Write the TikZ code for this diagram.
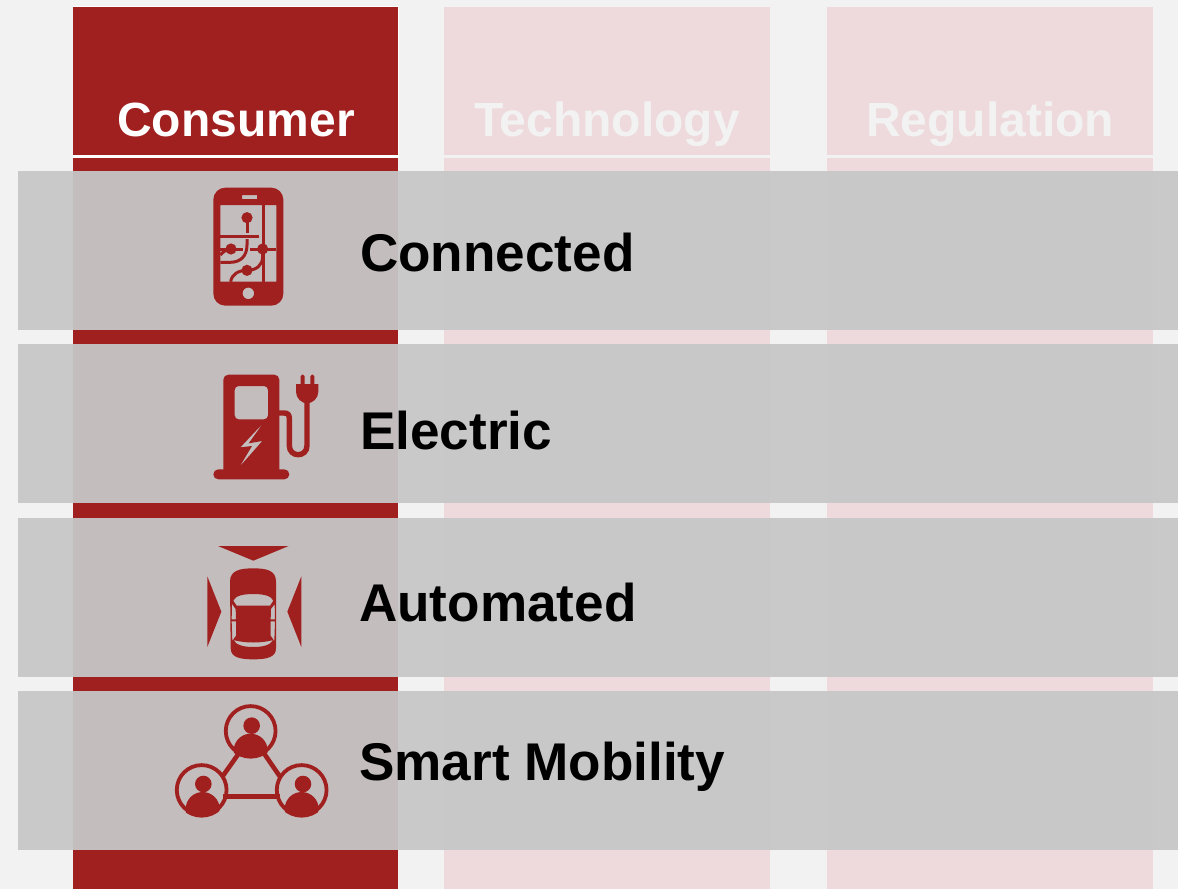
\documentclass[tikz,border=0pt]{standalone}
\usepackage{fontspec}
\setmainfont{Liberation Sans}
\definecolor{bgc}{HTML}{F2F2F2}
\definecolor{redc}{HTML}{A01F1F}
\definecolor{pinkc}{HTML}{EEDADC}
\definecolor{bandc}{HTML}{C7C7C7}
\tikzset{
  column/.style={fill=#1,draw=none,inner sep=0pt,outer sep=0pt,anchor=north west},
  band/.style={fill=bandc,fill opacity=.94,draw=none,inner sep=0pt,outer sep=0pt,anchor=north west,minimum width=1160pt,minimum height=159pt},
  headtext/.style={font=\bfseries\fontsize{48}{56}\selectfont,anchor=base,inner sep=0pt,text=#1},
  bandtext/.style={font=\bfseries\fontsize{53.1}{60}\selectfont,anchor=base west,inner sep=0pt,text=black},
  icon/.style={shift={#1},x=.33333pt,y=-.33333pt},
  redline/.style={draw=redc,line width=#1,line cap=butt},
}
\begin{document}
\begin{tikzpicture}[x=1pt,y=-1pt]
\useasboundingbox (0,0) rectangle (1178,889);
\fill[bgc] (0,0) rectangle (1178,889);
% columns
\node[column=redc,minimum width=325pt,minimum height=148pt] (h1) at (73,7) {};
\node[column=redc,minimum width=325pt,minimum height=731pt] (c1) at (73,158) {};
\node[column=pinkc,minimum width=326pt,minimum height=148pt] (h2) at (444,7) {};
\node[column=pinkc,minimum width=326pt,minimum height=731pt] (c2) at (444,158) {};
\node[column=pinkc,minimum width=326pt,minimum height=148pt] (h3) at (827,7) {};
\node[column=pinkc,minimum width=326pt,minimum height=731pt] (c3) at (827,158) {};
\draw[white,line width=1.2pt] (73,6.5) -- (398.5,6.5) -- (398.5,155);
\draw[white,line width=3pt] (73,156.5) -- (398.5,156.5);
\draw[bgc,line width=3pt] (444,156.5) -- (770,156.5) (827,156.5) -- (1153,156.5);
\node[headtext=white] (t1) at (236,136) {Consumer};
\node[headtext=bgc] (t2) at (607,136) {Technology};
\node[headtext=bgc] (t3) at (990,136) {Regulation};
% bands
\node[band] (b1) at (18,171) {};
\node[band] (b2) at (18,344) {};
\node[band] (b3) at (18,518) {};
\node[band] (b4) at (18,691) {};
\node[bandtext] (l1) at (360,271) {Connected};
\node[bandtext] (l2) at (360,449) {Electric};
\node[bandtext] (l3) at (359,621) {Automated};
\node[bandtext] (l4) at (359,780) {Smart Mobility};
% phone
\begin{scope}[icon={(190,175)}]
\fill[redc,even odd rule]
  [rounded corners=12pt] (70,38) rectangle (280,392)
  [sharp corners] (91,90) rectangle (259,320)
  (156,60) rectangle (201,72)
  (175,355) circle (5.8pt);
\fill[redc] (171,128) circle (5.6pt);
\fill[redc] (123,222) circle (5.6pt);
\fill[redc] (218,222) circle (5.6pt);
\fill[redc] (171,286) circle (5.6pt);
\draw[redline=3pt] (219,90) -- (219,320);
\draw[redline=3pt] (91,185) -- (208,185);
\draw[redline=3pt] (171,128) -- (171,175);
\draw[redline=3pt] (91,222) -- (160,222);
\draw[redline=3pt] (180,222) -- (259,222);
\draw[redline=3pt] (171,192) -- (171,210) .. controls (171,245) and (150,262) .. (120,262) -- (91,262);
\draw[redline=3pt] (91,240) .. controls (100,230) and (110,222) .. (123,222);
\draw[redline=3pt] (218,222) -- (218,245) .. controls (218,270) and (200,286) .. (171,286) .. controls (145,286) and (125,298) .. (122,320);
\end{scope}
% charging pump
\begin{scope}[icon={(190,360)}]
\fill[redc,even odd rule]
  (100,335) -- (100,60) [rounded corners=5pt] -- (100,44) -- (268,44) [sharp corners] -- (268,335) -- cycle
  [rounded corners=4pt] (134,78) rectangle (234,178)
  [sharp corners] (219,190) -- (151,262) -- (186,258) -- (149,320) -- (217,243) -- (176,250) -- cycle;
\fill[redc,rounded corners=5pt] (70,328) rectangle (298,358);
\draw[redline=5.4pt] (266,159) -- (282,159) .. controls (293,159) and (298,164) .. (298,175) -- (298,257)
  .. controls (298,293) and (351,293) .. (351,257) -- (351,120);
\fill[redc] (318,72) -- (385,72) -- (385,95) .. controls (385,115) and (368,130) .. (351,130) .. controls (335,130) and (318,115) .. (318,95) -- cycle;
\fill[redc,rounded corners=1.5pt] (332,44) rectangle (344,76);
\fill[redc,rounded corners=1.5pt] (361,44) rectangle (373,76);
\end{scope}
% car
\begin{scope}[icon={(190,535)}]
\fill[redc] (84,33) -- (296,33) -- (190,77) -- cycle;
\fill[redc] (52,124) -- (94,230) -- (52,336) -- cycle;
\fill[redc] (334,124) -- (292,230) -- (334,336) -- cycle;
\fill[redc,even odd rule]
  (120,140) .. controls (120,106) and (150,100) .. (190,100) .. controls (230,100) and (258,106) .. (258,140)
  -- (258,340) .. controls (258,367) and (230,373) .. (190,373) .. controls (150,373) and (122,367) .. (122,340) -- cycle
  (130,197) .. controls (136,182) and (160,177) .. (190,177) .. controls (220,177) and (244,182) .. (250,197) -- (240,212) -- (140,212) -- cycle
  (126,207) -- (137,222) -- (138,253) -- (125,253) -- cycle
  (125,259) -- (138,259) -- (138,302) -- (127,318) -- cycle
  (254,207) -- (243,222) -- (242,253) -- (255,253) -- cycle
  (255,259) -- (242,259) -- (242,302) -- (253,318) -- cycle
  (130,315) .. controls (165,325) and (215,325) .. (250,315) .. controls (240,332) and (215,336) .. (190,336) .. controls (165,336) and (140,332) .. (130,315) -- cycle;
\end{scope}
% people
\begin{scope}[icon={(165,695)}]
\draw[redline=4.6pt] (225,170) -- (172,245);
\draw[redline=4.6pt] (290,165) -- (345,245);
\draw[redline=5pt] (175,303) -- (345,303);
\foreach \cx/\cy/\hx/\hy/\bx/\by in {257/108/260/92/257/167, 110/285/115/267/113/342, 410/285/414/267/410/342}{
  \draw[redc,line width=3.8pt] (\cx,\cy) circle (24.9pt);
  \fill[redc] (\hx,\hy) circle (8.3pt);
  \begin{scope}
    \clip (\cx,\cy) circle (27.6pt);
    \fill[redc] (\bx,\by) circle (17pt);
  \end{scope}
}
\end{scope}
\end{tikzpicture}
\end{document}
